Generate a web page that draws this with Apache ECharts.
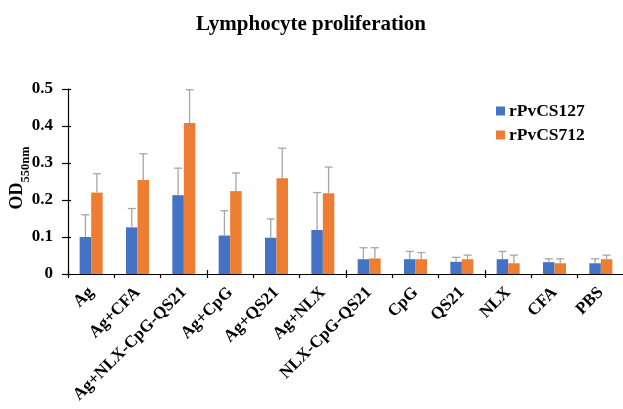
<!DOCTYPE html>
<html>
<head>
<meta charset="utf-8">
<script src="https://cdn.jsdelivr.net/npm/echarts@6/dist/echarts.min.js"></script>
<style>
  html, body { margin: 0; padding: 0; background: #fff; }
  #chart { width: 623px; height: 409px; }
</style>
</head>
<body>
<div id="chart"></div>
<script>
// Treatment groups
const categories = ['Ag', 'Ag+CFA', 'Ag+NLX-CpG-QS21', 'Ag+CpG', 'Ag+QS21', 'Ag+NLX',
  'NLX-CpG-QS21', 'CpG', 'QS21', 'NLX', 'CFA', 'PBS'];

// Mean OD550nm per group
const rPvCS127 = [0.100, 0.126, 0.213, 0.104, 0.098, 0.119, 0.040, 0.040, 0.033, 0.040, 0.032, 0.029];
const rPvCS712 = [0.220, 0.254, 0.408, 0.224, 0.259, 0.218, 0.042, 0.040, 0.040, 0.029, 0.029, 0.040];

// Standard deviations (upper error bars)
const rPvCS127Sd = [0.060, 0.051, 0.073, 0.067, 0.051, 0.101, 0.031, 0.021, 0.012, 0.021, 0.009, 0.012];
const rPvCS712Sd = [0.051, 0.071, 0.090, 0.049, 0.081, 0.071, 0.029, 0.018, 0.011, 0.022, 0.012, 0.011];

const seriesNames = ['rPvCS127', 'rPvCS712'];
const yTicks = { min: 0, max: 0.5, interval: 0.1 };

const FONT = '"Liberation Serif", "Times New Roman", "DejaVu Serif", serif';
const BAR_W = 11.5;

function errorBars(means, sds, offset) {
  return {
    type: 'custom',
    xAxisIndex: 0,
    yAxisIndex: 0,
    z: 5,
    silent: true,
    data: means.map((m, i) => [i, m, m + sds[i]]),
    renderItem: function (params, api) {
      const base = api.coord([api.value(0), api.value(1)]);
      const top = api.coord([api.value(0), api.value(2)]);
      const x = base[0] + offset;
      const cap = 4;
      const style = { stroke: '#a6a6a6', lineWidth: 1.3 };
      return {
        type: 'group',
        children: [
          { type: 'line', shape: { x1: x, y1: base[1], x2: x, y2: top[1] }, style: style },
          { type: 'line', shape: { x1: x - cap, y1: top[1], x2: x + cap, y2: top[1] }, style: style }
        ]
      };
    }
  };
}

const chart = echarts.init(document.getElementById('chart'), null, { renderer: 'canvas' });

chart.setOption({
  animation: false,
  backgroundColor: '#fff',
  textStyle: { fontFamily: FONT },
  title: {
    text: 'Lymphocyte proliferation',
    left: 306,
    textAlign: 'center',
    top: 9,
    textStyle: { fontFamily: FONT, fontWeight: 'bold', fontSize: 21, color: '#000' }
  },
  legend: {
    data: seriesNames,
    orient: 'vertical',
    left: 491,
    top: 97,
    icon: 'rect',
    itemWidth: 9,
    itemHeight: 9,
    itemGap: 6,
    textStyle: { fontFamily: FONT, fontWeight: 'bold', fontSize: 17.5, color: '#000', padding: [0, 0, 0, -1] }
  },
  grid: { left: 68, right: -1, top: 89, bottom: 135, containLabel: false, outerBoundsMode: 'none' },
  xAxis: [
    {
      type: 'category',
      data: categories,
      axisLine: { lineStyle: { color: '#000', width: 1.2 } },
      axisTick: { show: true, length: 4, lineStyle: { color: '#000', width: 1.2 } },
      axisLabel: {
        rotate: 45,
        margin: 16,
        interval: 0,
        fontFamily: FONT,
        fontWeight: 'bold',
        fontSize: 17,
        color: '#000'
      }
    },
    {
      type: 'category',
      data: categories,
      position: 'bottom',
      axisLine: { show: false },
      axisTick: { show: true, inside: true, length: 4, lineStyle: { color: '#000', width: 1.2 } },
      axisLabel: { show: false }
    }
  ],
  yAxis: [
    {
      type: 'value',
      min: yTicks.min,
      max: yTicks.max,
      interval: yTicks.interval,
      splitLine: { show: false },
      axisLine: { show: true, lineStyle: { color: '#000', width: 1.2 } },
      axisTick: { show: true, length: 6, lineStyle: { color: '#000', width: 1.2 } },
      axisLabel: {
        margin: 15,
        fontFamily: FONT,
        fontWeight: 'bold',
        fontSize: 17,
        color: '#000',
        formatter: v => (v === 0 ? '0' : v.toFixed(1))
      },
      name: '{a|OD}{b|550nm}',
      nameLocation: 'middle',
      nameGap: 42,
      nameMoveOverlap: false,
      nameRotate: 90,
      nameTextStyle: {
        padding: [0, 0, 0, 7],
        rich: {
          a: { fontFamily: FONT, fontWeight: 'bold', fontSize: 18, color: '#000', verticalAlign: 'bottom', lineHeight: 20 },
          b: { fontFamily: FONT, fontWeight: 'bold', fontSize: 12.5, color: '#000', verticalAlign: 'bottom', lineHeight: 20, padding: [0, 0, -6, 0] }
        }
      }
    },
    {
      type: 'value',
      min: yTicks.min,
      max: yTicks.max,
      interval: yTicks.interval,
      position: 'left',
      splitLine: { show: false },
      axisLine: { show: false },
      axisTick: { show: true, inside: true, length: 3, lineStyle: { color: '#000', width: 1.2 } },
      axisLabel: { show: false }
    }
  ],
  series: [
    {
      name: seriesNames[0],
      type: 'bar',
      data: rPvCS127,
      barWidth: BAR_W,
      barGap: '0%',
      itemStyle: { color: '#4472c4' }
    },
    {
      name: seriesNames[1],
      type: 'bar',
      data: rPvCS712,
      barWidth: BAR_W,
      barGap: '0%',
      itemStyle: { color: '#ed7d31' }
    },
    errorBars(rPvCS127, rPvCS127Sd, -BAR_W / 2),
    errorBars(rPvCS712, rPvCS712Sd, BAR_W / 2)
  ]
});
</script>
</body>
</html>
